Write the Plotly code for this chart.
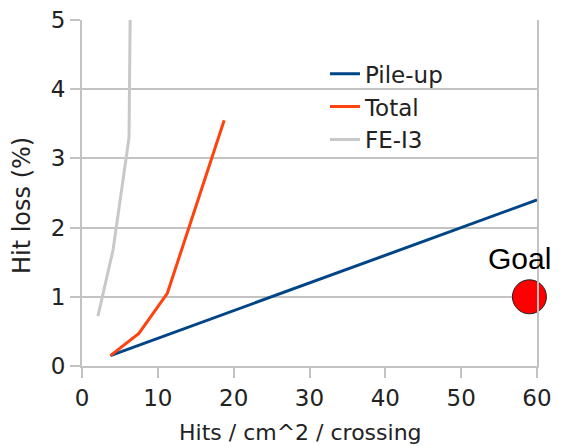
import plotly.graph_objects as go

pile_x = [3.75, 60]
pile_y = [0.15, 2.4]
total_x = [3.75, 7.5, 11.25, 15, 18.75]
total_y = [0.15, 0.47, 1.05, 2.3, 3.55]
fe_x = [2.1, 4.1, 6.2, 6.4]
fe_y = [0.72, 1.68, 3.3, 5.6]
goal_x = [59]
goal_y = [1.0]
goal_label = "Goal"
x_ticks = [0, 10, 20, 30, 40, 50, 60]
y_ticks = [0, 1, 2, 3, 4, 5]

grid = "#c3c3c3"
fnt = "DejaVu Sans, Liberation Sans, sans-serif"
fnt_goal = "Liberation Sans, Arial, sans-serif"
fig = go.Figure()
fig.add_trace(go.Scatter(x=pile_x, y=pile_y, mode="lines", name="Pile-up",
                         line=dict(color="#004586", width=3)))
fig.add_trace(go.Scatter(x=total_x, y=total_y, mode="lines", name="Total",
                         line=dict(color="#ff420e", width=3)))
fig.add_trace(go.Scatter(x=fe_x, y=fe_y, mode="lines", name="FE-I3",
                         line=dict(color="#c8c8c8", width=3)))
fig.add_trace(go.Scatter(x=goal_x, y=goal_y, mode="markers", name=goal_label,
                         marker=dict(color="#ff0000", size=34, line=dict(color="#222222", width=1)),
                         showlegend=False, cliponaxis=False))
fig.add_annotation(x=goal_x[0], y=goal_y[0], text=goal_label, showarrow=False,
                   xanchor="center", yanchor="bottom", xshift=-10, yshift=20,
                   font=dict(size=30, color="#000000", family=fnt_goal))
fig.add_annotation(x=0.48, y=-0.191, xref="paper", yref="paper", showarrow=False,
                   text="Hits / cm^2 / crossing", xanchor="center", yanchor="middle",
                   font=dict(size=22, color="#222222", family=fnt))
fig.add_annotation(x=-0.132, y=0.465, xref="paper", yref="paper", showarrow=False,
                   text="Hit loss (%)", textangle=-90, xanchor="center", yanchor="middle",
                   font=dict(size=24, color="#222222", family=fnt))

fig.update_layout(
    width=557, height=438,
    margin=dict(l=74, r=28, t=12, b=80, autoexpand=False),
    paper_bgcolor="white", plot_bgcolor="white",
    font=dict(family=fnt, size=23, color="#222222"),
    legend=dict(x=0.534, y=0.907, xanchor="left", yanchor="top",
                bgcolor="rgba(0,0,0,0)", font=dict(size=23), itemwidth=30),
    showlegend=True,
)
fig.update_xaxes(range=[0, 60], tickmode="array", tickvals=x_ticks, showgrid=False, zeroline=False,
                 showline=True, linecolor=grid, linewidth=2, automargin=False,
                 ticks="outside", ticklen=10, tickcolor=grid, tickwidth=2,
                 ticklabeloverflow="allow", tickfont=dict(size=23))
fig.update_yaxes(range=[0, 5.0001], tickmode="array", tickvals=y_ticks, showgrid=True, gridcolor=grid, gridwidth=2,
                 zeroline=False, showline=True, mirror=True, linecolor=grid, linewidth=2, automargin=False,
                 ticks="outside", ticklen=10, tickcolor=grid, tickwidth=2,
                 ticklabeloverflow="allow", tickfont=dict(size=23))

fig.write_html("out.html")
